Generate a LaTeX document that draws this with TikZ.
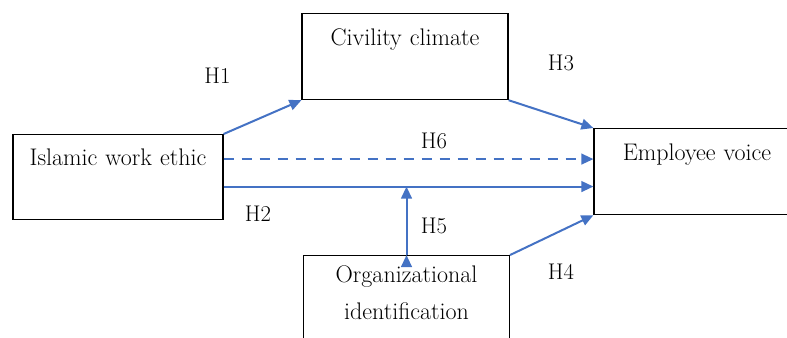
\documentclass[tikz,border=0pt]{standalone}
\usetikzlibrary{arrows.meta}
\usetikzlibrary{calc}
\usetikzlibrary{positioning}

\definecolor{linkblue}{HTML}{4472C4}

\tikzset{
  construct/.style={draw, line width=0.9pt, inner sep=0pt, anchor=north,
    text width=154.5pt, align=center, text depth=40.5pt, text height=24pt,
    font=\fontsize{18}{27.75}\selectfont},
  hyp/.style={font=\fontsize{17}{20}\selectfont},
}

\begin{document}
\begin{tikzpicture}[x=0.75pt, y=-0.75pt]
  \clip (0,0) rectangle (787,337);

  \node [construct, text width=157.5pt, text height=23.5pt, text depth=40.2pt] (iwe) at (118,134) {Islamic work ethic};
  \node [construct] (cc) at (405,13) {Civility climate};
  \node [construct] (ev) at (697,128) {Employee voice};
  \node [construct, text height=19.8pt, text depth=70pt] (oi) at (406.5,255) {Organizational\\identification};

  \coordinate (h6) at ([yshift=13.5pt]iwe.east);
  \coordinate (h2) at ([yshift=-7.1pt]iwe.east);

  \path [draw, line width=1.5pt, linkblue, -{Triangle[length=9pt,width=8pt]}]
    (iwe.north east) edge (cc.south west)
    (cc.south east)  edge (ev.north west)
    (oi.north east)  edge (ev.south west)
    (h6)             edge [dash pattern=on 7.5pt off 6pt] (h6 -| ev.west)
    (h2)             edge (h2 -| ev.west)
    (oi.north)       edge (oi.north |- h2);

  \node [hyp] (l1) at (217.5,76) {H1};
  \node [hyp] (l2) at (258,214) {H2};
  \node [hyp] (l3) at (561,63) {H3};
  \node [hyp] (l4) at (561,272) {H4};
  \node [hyp] (l5) at (434,226) {H5};
  \node [hyp] (l6) at (434,141) {H6};

\end{tikzpicture}
\end{document}
